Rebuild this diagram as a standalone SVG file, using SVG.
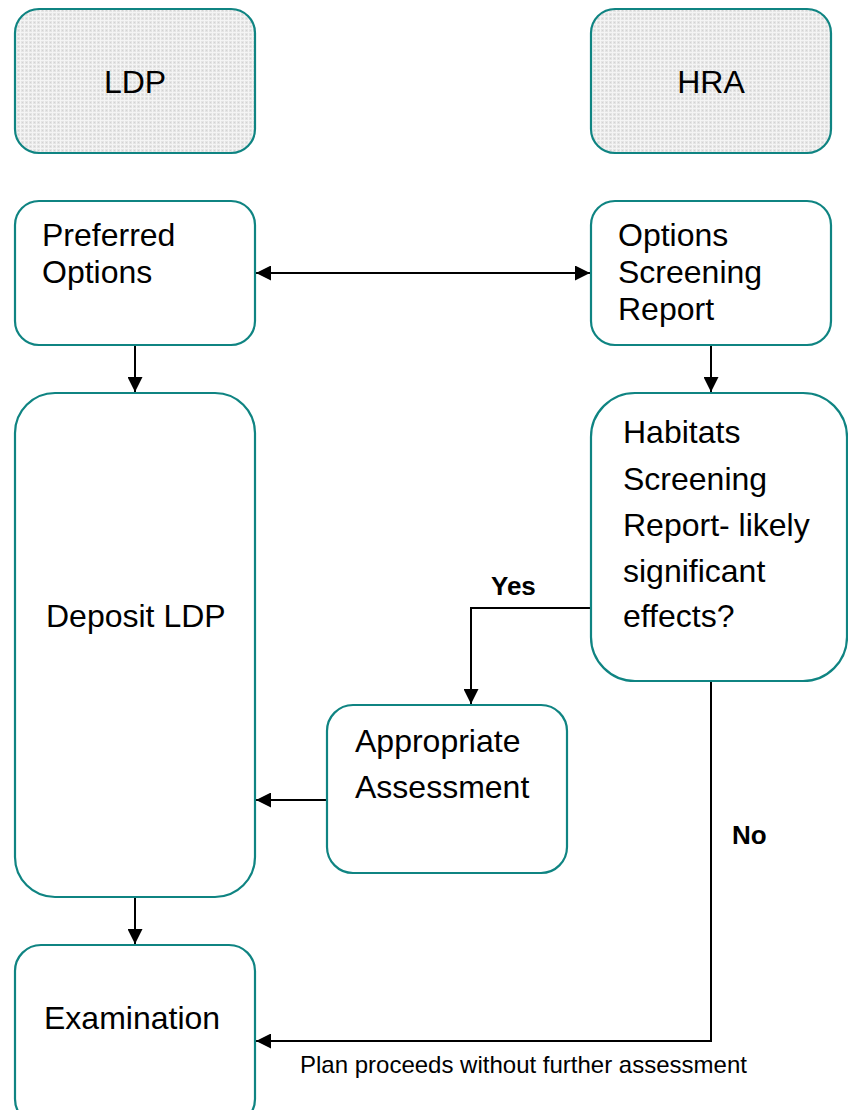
<svg xmlns="http://www.w3.org/2000/svg" width="848" height="1110" viewBox="0 0 848 1110">
<style>
.box{fill:#ffffff;stroke:#0f8482;stroke-width:2.2}
.hatch{fill:url(#grid);stroke:#0f8482;stroke-width:2.2}
.t{font-family:"Liberation Sans",Arial,sans-serif;font-size:32px;fill:#000}
.b{font-family:"Liberation Sans",Arial,sans-serif;font-size:26px;font-weight:bold;fill:#000}
.s{font-family:"Liberation Sans",Arial,sans-serif;font-size:24px;fill:#000}
.c{fill:none;stroke:#000;stroke-width:2}
</style>
<defs>
<pattern id="grid" width="4" height="4" patternUnits="userSpaceOnUse">
<rect width="4" height="4" fill="#e4e4e4"/>
<rect x="0" y="0" width="1" height="4" fill="#f4f4f4"/>
<rect x="0" y="0" width="4" height="1" fill="#f4f4f4"/>
<rect x="2" y="2" width="1" height="1" fill="#d2d2d2"/>
</pattern>
<marker id="arr" markerWidth="15" markerHeight="15" viewBox="0 0 15 15" refX="15" refY="7.5" orient="auto" markerUnits="userSpaceOnUse">
<path d="M0,0 L15,7.5 L0,15 Z" fill="#000"/>
</marker>
<marker id="arrs" markerWidth="15" markerHeight="15" viewBox="0 0 15 15" refX="0" refY="7.5" orient="auto" markerUnits="userSpaceOnUse">
<path d="M15,0 L0,7.5 L15,15 Z" fill="#000"/>
</marker>
</defs>

<g id="connectors">
<line class="c" x1="256" y1="273" x2="590" y2="273" marker-start="url(#arrs)" marker-end="url(#arr)"/>
<line class="c" x1="135" y1="345" x2="135" y2="392" marker-end="url(#arr)"/>
<line class="c" x1="711" y1="345" x2="711" y2="392" marker-end="url(#arr)"/>
<polyline class="c" points="591,608 471,608 471,704" marker-end="url(#arr)"/>
<line class="c" x1="327" y1="800" x2="256" y2="800" marker-end="url(#arr)"/>
<line class="c" x1="135" y1="897" x2="135" y2="944" marker-end="url(#arr)"/>
<polyline class="c" points="711,681 711,1041 256,1041" marker-end="url(#arr)"/>
<text class="b" x="491" y="595">Yes</text>
<text class="b" x="732" y="844">No</text>
<text class="s" x="300" y="1073">Plan proceeds without further assessment</text>
</g>

<g id="ldp">
<rect class="hatch" x="15" y="9" width="240" height="144" rx="24"/>
<text class="t" x="135" y="93" text-anchor="middle">LDP</text>
</g>
<g id="hra">
<rect class="hatch" x="591" y="9" width="240" height="144" rx="24"/>
<text class="t" x="711" y="93" text-anchor="middle">HRA</text>
</g>
<g id="preferred-options">
<rect class="box" x="15" y="201" width="240" height="144" rx="24"/>
<text class="t" x="42" y="246">Preferred</text>
<text class="t" x="42" y="283">Options</text>
</g>
<g id="options-screening-report">
<rect class="box" x="591" y="201" width="240" height="144" rx="24"/>
<text class="t" x="618" y="246">Options</text>
<text class="t" x="618" y="283">Screening</text>
<text class="t" x="618" y="320">Report</text>
</g>
<g id="deposit-ldp">
<rect class="box" x="15" y="393" width="240" height="504" rx="40"/>
<text class="t" x="46" y="627">Deposit LDP</text>
</g>
<g id="habitats-screening">
<rect class="box" x="591" y="393" width="256" height="288" rx="44"/>
<text class="t" x="623" y="443">Habitats</text>
<text class="t" x="623" y="490">Screening</text>
<text class="t" x="623" y="536">Report- likely</text>
<text class="t" x="623" y="582">significant</text>
<text class="t" x="623" y="627">effects?</text>
</g>
<g id="appropriate-assessment">
<rect class="box" x="327" y="705" width="240" height="168" rx="26"/>
<text class="t" x="355" y="752">Appropriate</text>
<text class="t" x="355" y="798">Assessment</text>
</g>
<g id="examination">
<rect class="box" x="15" y="945" width="240" height="180" rx="26"/>
<text class="t" x="44" y="1029">Examination</text>
</g>
</svg>
